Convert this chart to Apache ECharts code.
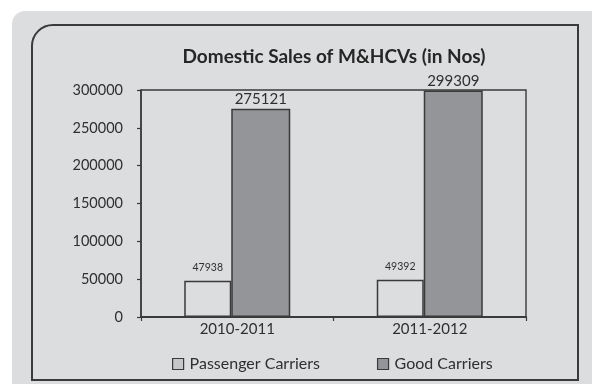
<!DOCTYPE html>
<html>
<head>
<meta charset="utf-8">
<script src="https://cdn.jsdelivr.net/npm/echarts@6/dist/echarts.min.js"></script>
<style>
  html, body { margin: 0; padding: 0; background: #ffffff; }
  #chart { width: 593px; height: 384px; }
</style>
</head>
<body>
<div id="chart"></div>
<script>
// Domestic sales of medium & heavy commercial vehicles, in numbers
const categories = ['2010-2011', '2011-2012'];
const passengerCarriers = [47938, 49392];
const goodCarriers = [275121, 299309];
const yTicks = [0, 50000, 100000, 150000, 200000, 250000, 300000];

const FONT = 'Lato, "Open Sans", sans-serif';
const INK = '#2f2f2f';
const EDGE = '#3a3a3a';

const chart = echarts.init(document.getElementById('chart'), null, { renderer: 'canvas' });

chart.setOption({
  animation: false,
  backgroundColor: '#ffffff',
  textStyle: { fontFamily: FONT },
  graphic: [
    {
      type: 'rect', z: -10, silent: true,
      shape: { x: 12, y: 11, width: 580, height: 373, r: [13, 0, 0, 0] },
      style: { fill: '#dcdddf' }
    },
    {
      type: 'rect', z: -5, silent: true,
      shape: { x: 32, y: 25, width: 546, height: 355, r: [21, 0, 0, 0] },
      style: { fill: 'none', stroke: EDGE, lineWidth: 2 }
    }
  ],
  title: {
    text: 'Domestic Sales of M&HCVs (in Nos)',
    left: 329,
    top: 42,
    textAlign: 'center',
    textStyle: { fontFamily: FONT, fontWeight: 'bold', fontSize: 19, color: '#262626' }
  },
  legend: {
    left: 167,
    top: 351,
    itemWidth: 11,
    itemHeight: 11,
    itemGap: 57,
    icon: 'rect',
    textStyle: { fontFamily: FONT, fontSize: 16, color: INK, padding: [0, 0, 0, 1] },
    data: [
      { name: 'Passenger Carriers', itemStyle: { color: '#c6c7c9', borderColor: EDGE, borderWidth: 1.2 } },
      { name: 'Good Carriers', itemStyle: { color: '#949599', borderColor: EDGE, borderWidth: 1.2 } }
    ]
  },
  grid: {
    left: 141, right: 67, top: 90, bottom: 67,
    show: true, borderColor: EDGE, borderWidth: 1.4, backgroundColor: 'transparent'
  },
  xAxis: {
    type: 'category',
    data: categories,
    boundaryGap: true,
    axisLine: { lineStyle: { color: EDGE, width: 2 } },
    axisTick: { show: true, length: 4, lineStyle: { color: EDGE, width: 1.2 } },
    axisLabel: { fontFamily: FONT, fontSize: 15, color: INK, margin: 5 },
    splitLine: { show: false }
  },
  yAxis: {
    type: 'value',
    min: yTicks[0],
    max: yTicks[yTicks.length - 1],
    interval: yTicks[1] - yTicks[0],
    axisLine: { show: true, lineStyle: { color: EDGE, width: 1.5 } },
    axisTick: { show: true, length: 4, lineStyle: { color: EDGE, width: 1.2 } },
    axisLabel: {
      fontFamily: FONT, fontSize: 14.5, color: INK, margin: 18,
      formatter: (v) => String(v)
    },
    splitLine: { show: false }
  },
  series: [
    {
      name: 'Passenger Carriers',
      type: 'bar',
      data: passengerCarriers,
      barWidth: 47,
      barGap: '0%',
      itemStyle: { color: '#dcdddf', borderColor: EDGE, borderWidth: 1.5 },
      label: {
        show: true, position: 'top', distance: 8,
        fontFamily: FONT, fontSize: 10.5, color: INK
      }
    },
    {
      name: 'Good Carriers',
      type: 'bar',
      data: goodCarriers,
      barWidth: 59,
      barGap: '0%',
      itemStyle: { color: '#949599', borderColor: EDGE, borderWidth: 1.5 },
      label: {
        show: true, position: 'top', distance: 2,
        fontFamily: FONT, fontSize: 15, color: INK
      }
    }
  ]
});
</script>
</body>
</html>
